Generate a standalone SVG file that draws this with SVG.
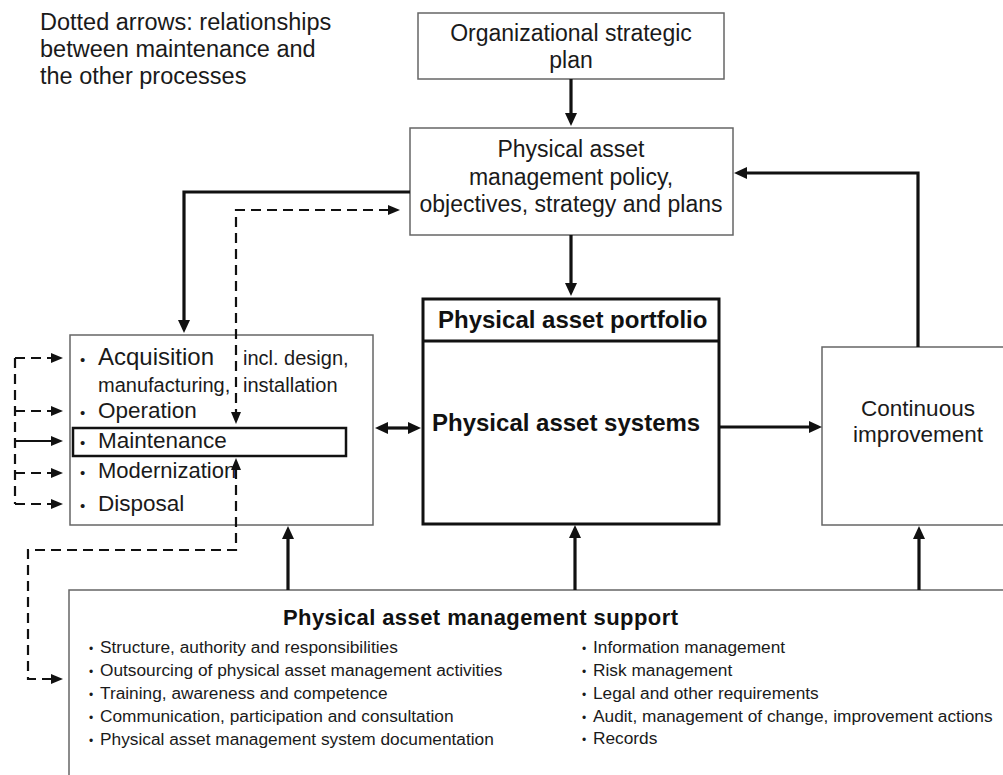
<svg xmlns="http://www.w3.org/2000/svg" width="1003" height="775" viewBox="0 0 1003 775">
<style>
.t{font-family:"Liberation Sans",Arial,Helvetica,sans-serif;fill:#1a1a1a}
.b{font-weight:bold;fill:#111}
.box{fill:#fff;stroke:#666;stroke-width:1.5}
.thick{fill:#fff;stroke:#111;stroke-width:3}
.sol{fill:none;stroke:#111;stroke-width:3.2}
.thin{fill:none;stroke:#111;stroke-width:2}
.dash{fill:none;stroke:#111;stroke-width:2.2;stroke-dasharray:10 6}
</style>
<defs>
<marker id="arr" markerUnits="userSpaceOnUse" markerWidth="14" markerHeight="13" refX="2" refY="6" orient="auto-start-reverse"><path d="M0,0 L13,6 L0,12 z" fill="#111"/></marker>
<marker id="arrD" markerUnits="userSpaceOnUse" markerWidth="13" markerHeight="11" refX="1" refY="5" orient="auto-start-reverse"><path d="M0,0 L12,5 L0,10 z" fill="#111"/></marker>
</defs>
<rect width="1003" height="775" fill="#fff"/>

<g id="note">
<text class="t" x="40" y="30" font-size="23.5">Dotted arrows: relationships</text>
<text class="t" x="40" y="57" font-size="23.5">between maintenance and</text>
<text class="t" x="40" y="84" font-size="23.5">the other processes</text>
</g>

<g id="org-plan">
<rect class="box" x="418" y="13" width="306" height="66"/>
<text class="t" x="571" y="41" font-size="23" text-anchor="middle">Organizational strategic</text>
<text class="t" x="571" y="68" font-size="23" text-anchor="middle">plan</text>
</g>

<g id="policy">
<rect class="box" x="410" y="128" width="323" height="107"/>
<text class="t" x="571" y="157" font-size="23" text-anchor="middle">Physical asset</text>
<text class="t" x="571" y="185" font-size="23" text-anchor="middle">management policy,</text>
<text class="t" x="571" y="212" font-size="23" text-anchor="middle">objectives, strategy and plans</text>
</g>

<g id="portfolio">
<rect class="thick" x="423" y="299" width="296" height="225"/>
<line x1="423" y1="341" x2="719" y2="341" stroke="#111" stroke-width="3"/>
<text class="t b" x="438" y="328" font-size="24">Physical asset portfolio</text>
<text class="t b" x="432" y="431" font-size="24">Physical asset systems</text>
</g>

<g id="continuous-improvement">
<rect class="box" x="822" y="347" width="200" height="178"/>
<text class="t" x="918" y="416" font-size="22.5" text-anchor="middle">Continuous</text>
<text class="t" x="918" y="442" font-size="22.5" text-anchor="middle">improvement</text>
</g>

<g id="lifecycle">
<rect class="box" x="70" y="335" width="303" height="190"/>
<rect x="73" y="428" width="273" height="28" fill="none" stroke="#111" stroke-width="2.5"/>
<text class="t" x="80" y="365" font-size="15">•</text>
<text class="t" x="98" y="365" font-size="24">Acquisition</text>
<text class="t" x="243" y="365" font-size="20">incl. design,</text>
<text class="t" x="98" y="392" font-size="20">manufacturing,</text>
<text class="t" x="243" y="392" font-size="20">installation</text>
<text class="t" x="80" y="418" font-size="15">•</text>
<text class="t" x="98" y="418" font-size="22.5">Operation</text>
<text class="t" x="80" y="448" font-size="15">•</text>
<text class="t" x="98" y="448" font-size="22.5">Maintenance</text>
<text class="t" x="80" y="478" font-size="15">•</text>
<text class="t" x="98" y="478" font-size="22">Modernization</text>
<text class="t" x="80" y="511" font-size="15">•</text>
<text class="t" x="98" y="511" font-size="22.5">Disposal</text>
</g>

<g id="support">
<rect class="box" x="69" y="590" width="950" height="200"/>
<text class="t b" x="283" y="625" font-size="22" textLength="395" lengthAdjust="spacing">Physical asset management support</text>
<g font-size="17.3">
<text class="t" x="89" y="652.5" font-size="12">•</text><text class="t" x="100" y="652.5">Structure, authority and responsibilities</text>
<text class="t" x="89" y="675.5" font-size="12">•</text><text class="t" x="100" y="675.5">Outsourcing of physical asset management activities</text>
<text class="t" x="89" y="698.5" font-size="12">•</text><text class="t" x="100" y="698.5">Training, awareness and competence</text>
<text class="t" x="89" y="721.5" font-size="12">•</text><text class="t" x="100" y="721.5">Communication, participation and consultation</text>
<text class="t" x="89" y="744.5" font-size="12">•</text><text class="t" x="100" y="744.5">Physical asset management system documentation</text>
<text class="t" x="582" y="652.5" font-size="12">•</text><text class="t" x="593" y="652.5">Information management</text>
<text class="t" x="582" y="675.5" font-size="12">•</text><text class="t" x="593" y="675.5">Risk management</text>
<text class="t" x="582" y="698.5" font-size="12">•</text><text class="t" x="593" y="698.5">Legal and other requirements</text>
<text class="t" x="582" y="721.5" font-size="12">•</text><text class="t" x="593" y="721.5">Audit, management of change, improvement actions</text>
<text class="t" x="582" y="743.5" font-size="12">•</text><text class="t" x="593" y="743.5">Records</text>
</g>
</g>

<g id="connectors">
<path class="sol" d="M571,79 V115" marker-end="url(#arr)"/>
<path class="sol" d="M571,235 V285" marker-end="url(#arr)"/>
<path class="sol" d="M410,192 H184 V322" marker-end="url(#arr)"/>
<path class="sol" d="M386,428 H410" marker-start="url(#arr)" marker-end="url(#arr)"/>
<path class="sol" d="M719,427 H811" marker-end="url(#arr)"/>
<path class="sol" d="M918,347 V173 H745" marker-end="url(#arr)"/>
<path class="sol" d="M288,590 V537" marker-end="url(#arr)"/>
<path class="sol" d="M575,590 V536" marker-end="url(#arr)"/>
<path class="sol" d="M919,590 V537" marker-end="url(#arr)"/>
<path class="dash" d="M389,210 H236 V413" marker-start="url(#arrD)" marker-end="url(#arrD)"/>
<path class="dash" d="M236,469 V550 H28 V679 H52" marker-start="url(#arrD)" marker-end="url(#arrD)"/>
<path class="dash" d="M15,358 V504"/>
<path class="dash" d="M15,358 H52" marker-end="url(#arrD)"/>
<path class="dash" d="M15,411 H52" marker-end="url(#arrD)"/>
<path class="thin" d="M15,441 H52" marker-end="url(#arrD)"/>
<path class="dash" d="M15,473 H52" marker-end="url(#arrD)"/>
<path class="dash" d="M15,504 H52" marker-end="url(#arrD)"/>
</g>
</svg>
